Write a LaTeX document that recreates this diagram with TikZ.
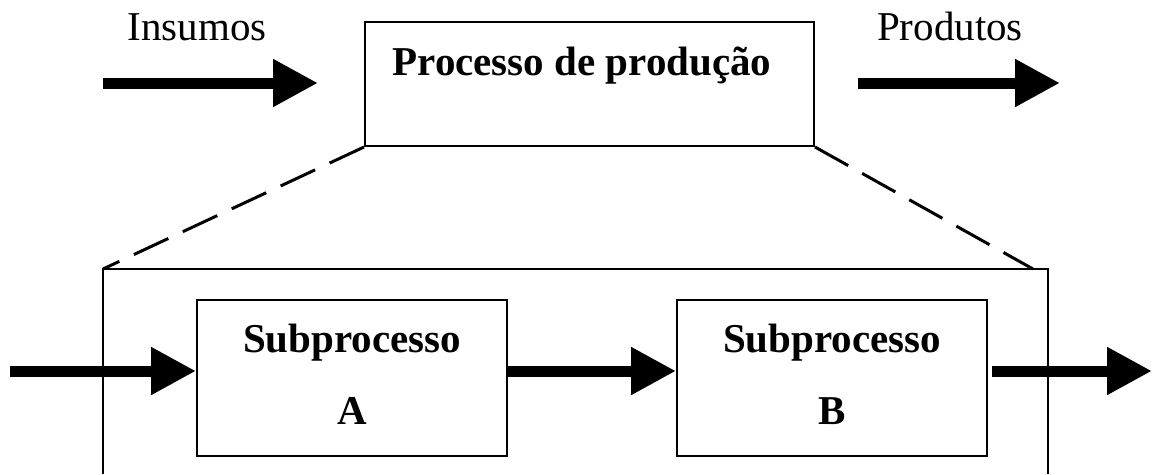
\documentclass[tikz,border=0pt]{standalone}
\usepackage{fontspec}
\setmainfont{Liberation Serif}
\usetikzlibrary{arrows.meta}
\begin{document}
\begin{tikzpicture}[x=1pt,y=-1pt,
  box/.style={draw, line width=2pt, rectangle, inner sep=0pt},
  frame/.style={line width=2pt},
  bigarrow/.style={line width=11pt, -{Triangle[length=45pt,width=45pt]}},
  zoomline/.style={line width=3pt, dash pattern=on 38pt off 16pt},
  boldlbl/.style={font=\fontsize{41}{41}\selectfont\bfseries, anchor=base, inner sep=0pt},
  plainlbl/.style={font=\fontsize{41}{41}\selectfont, anchor=base, inner sep=0pt}
]
\useasboundingbox (0,0) rectangle (1154,474);

% main process box and its title
\node[box, minimum width=449pt, minimum height=124pt] (P) at (589.5,84) {};
\node[boldlbl] (Ptxt) at (582,75) {Processo de produção};

% inputs and outputs
\node[plainlbl] (ins) at (197,40) {Insumos};
\node[plainlbl] (prod) at (950,40) {Produtos};
\coordinate (insA) at (103,83);
\coordinate (insB) at (318,83);
\coordinate (prodA) at (858,83);
\coordinate (prodB) at (1060,83);
\draw[bigarrow] (insA) -- (insB);
\draw[bigarrow] (prodA) -- (prodB);

% expanded view frame (open at the bottom)
\coordinate (frTL) at (103,269);
\coordinate (frTR) at (1048,269);
\coordinate (frBL) at (103,474);
\coordinate (frBR) at (1048,474);
\draw[frame] (frBL) -- (frTL) -- (frTR) -- (frBR);

% dashed zoom lines
\coordinate (zR) at (1033,269);
\draw[zoomline] (P.south west) -- (frTL);
\draw[zoomline] (P.south east) -- (zR);

% subprocesses
\node[box, minimum width=310pt, minimum height=156pt] (A) at (352,378) {};
\node[box, minimum width=310pt, minimum height=156pt] (B) at (832,378) {};
\node[boldlbl] (Atxt1) at (352,352) {Subprocesso};
\node[boldlbl] (Atxt2) at (352,424) {A};
\node[boldlbl] (Btxt1) at (832,352) {Subprocesso};
\node[boldlbl] (Btxt2) at (832,424) {B};

% flow through the subprocesses
\coordinate (flowIn) at (10,371);
\coordinate (flowOut) at (1152,371);
\draw[bigarrow] (flowIn) -- (flowIn -| A.west);
\draw[bigarrow] (flowIn -| A.east) -- (flowIn -| B.west);
\draw[bigarrow, shorten <=4pt] (flowIn -| B.east) -- (flowOut);
\end{tikzpicture}
\end{document}
